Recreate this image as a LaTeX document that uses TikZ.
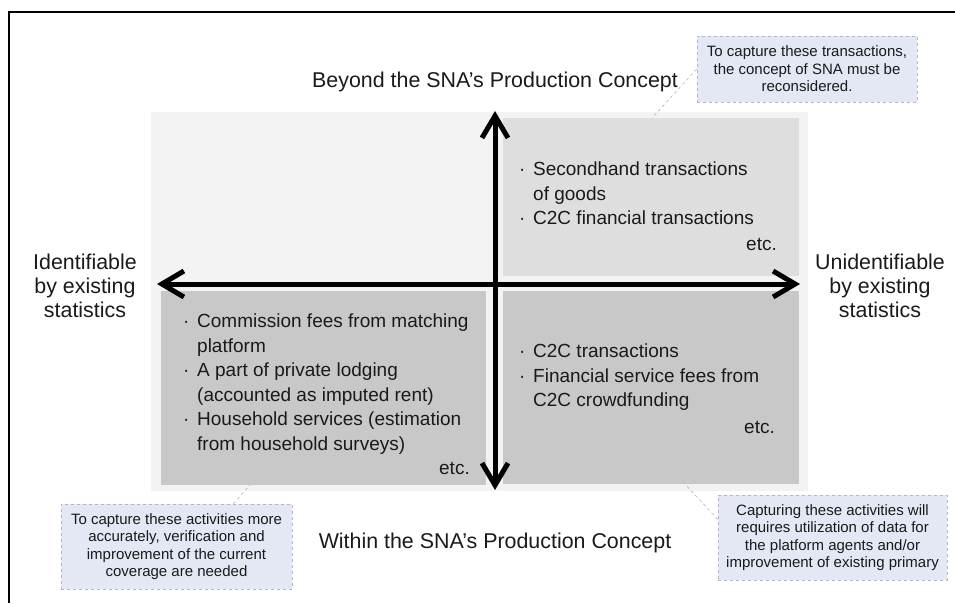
\documentclass[tikz,border=0pt]{standalone}
\usepackage{fontspec}
\setmainfont{Liberation Sans}
\usetikzlibrary{arrows.meta}

\definecolor{bgpale}{HTML}{F3F3F3}
\definecolor{quadlight}{HTML}{DEDEDE}
\definecolor{quaddark}{HTML}{C8C8C8}
\definecolor{notefill}{HTML}{E4E8F4}
\definecolor{notedash}{HTML}{B2B8C6}
\definecolor{inkgray}{HTML}{1A1A1A}

% bullet and hanging indent for the quadrant lists
\newcommand{\qbul}{\makebox[14pt][l]{·}}
\newcommand{\qind}{\hspace*{14pt}}

\tikzset{
  axislabel/.style={font=\fontsize{21.4}{24}\selectfont, text=inkgray, align=center, inner sep=0pt},
  quadtext/.style={font=\fontsize{19}{24.5}\selectfont, text=inkgray, align=left, inner sep=0pt, anchor=north west},
  etctext/.style={font=\fontsize{19}{24}\selectfont, text=inkgray, inner sep=0pt, anchor=base east},
  notebox/.style={draw=notedash, dashed, line width=0.7pt, fill=notefill, font=\fontsize{15}{17.5}\selectfont,
    text=inkgray, align=center, inner sep=0pt},
  leader/.style={draw=gray!60, dashed, line width=0.6pt},
  bigarrow/.style={line width=5pt, {Straight Barb[length=22pt,width=26pt]}-{Straight Barb[length=22pt,width=26pt]}}
}

\begin{document}
\begin{tikzpicture}[x=1pt, y=-1pt]
  \useasboundingbox (0,0) rectangle (955,603);
  % frame (top and left edges only)
  \draw[line width=1.4pt] (9,603) -- (9,12) -- (955,12);

  % pale background and the quadrants
  \fill[bgpale] (151,112) rectangle (808,491);
  \fill[quadlight] (503,118) rectangle (799,276);  % top right
  \fill[quaddark]  (503,291) rectangle (799,484);  % bottom right
  \fill[quaddark]  (161,291) rectangle (486,485);  % bottom left

  % axes
  \coordinate (W) at (157,284);
  \coordinate (E) at (800,284);
  \coordinate (N) at (495,111);
  \coordinate (S) at (495,490);
  \draw[bigarrow] (W) -- (E);
  \draw[bigarrow] (N) -- (S);

  % axis labels
  \node[axislabel] (beyond) at (495,82) {Beyond the SNA’s Production Concept};
  \node[axislabel] (within) at (495,543) {Within the SNA’s Production Concept};
  \node[axislabel] (ident) at (85,286) {Identifiable\\by existing\\statistics};
  \node[axislabel] (unident) at (880,286) {Unidentifiable\\by existing\\statistics};

  % quadrant contents
  \node[quadtext] (tr) at (519,162) {\qbul Secondhand transactions\\ \qind of goods\\ \qbul C2C financial transactions};
  \node[etctext] (tretc) at (777,250) {etc.};
  \node[quadtext] (br) at (519,344) {\qbul C2C transactions\\ \qbul Financial service fees from\\ \qind C2C crowdfunding};
  \node[etctext] (bretc) at (775,433) {etc.};
  \node[quadtext] (bl) at (183,314) {\qbul Commission fees from matching\\ \qind platform\\
    \qbul A part of private lodging\\ \qind (accounted as imputed rent)\\
    \qbul Household services (estimation\\ \qind from household surveys)};
  \node[etctext] (bletc) at (470,474) {etc.};

  % notes
  \node[notebox, minimum width=220pt, minimum height=66pt] (trnote) at (807,69)
    {To capture these transactions,\\the concept of SNA must be\\reconsidered.};
  \node[notebox, minimum width=231pt, minimum height=85pt] (blnote) at (176.5,546.5)
    {To capture these activities more\\accurately, verification and\\improvement of the current\\coverage are needed};
  \node[notebox, minimum width=229pt, minimum height=85pt] (brnote) at (832.5,537.5)
    {Capturing these activities will\\requires utilization of data for\\the platform agents and/or\\improvement of existing primary};

  % leaders from the notes to the quadrants
  \coordinate (trhook) at (652,118);
  \coordinate (blhook) at (250,485);
  \coordinate (brhook) at (684,483);
  \draw[leader] (trnote.west) -- (trhook);
  \draw[leader] (blnote.37.6) -- (blhook);
  \draw[leader] (brnote.171.4) -- (brhook);
\end{tikzpicture}
\end{document}
